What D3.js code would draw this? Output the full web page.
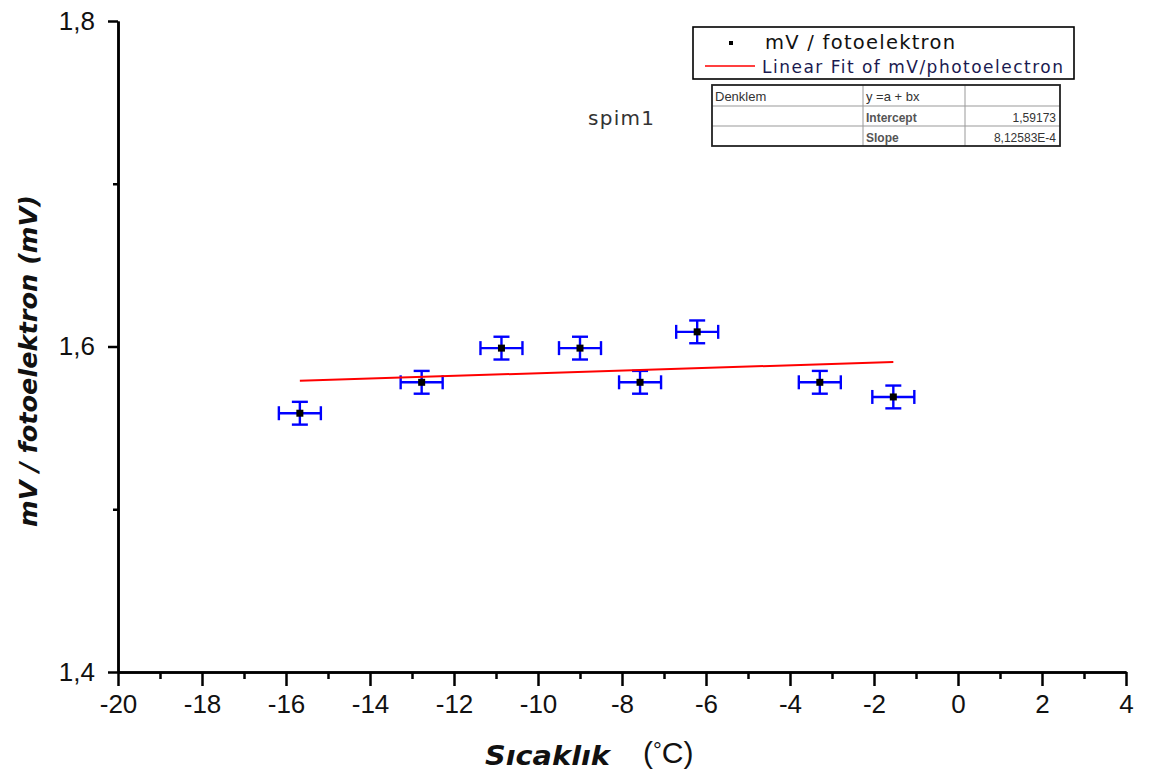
<!DOCTYPE html>
<html><head><meta charset="utf-8">
<script src="https://cdn.jsdelivr.net/npm/d3@7"></script>
<style>body{margin:0;background:#fff}svg{display:block}</style>
</head><body><svg id="chart" width="1150" height="771"></svg>
<script>
// ---- data ----
const temperatures = [-15.67, -12.77, -10.87, -9.0, -7.57, -6.21, -3.29, -1.54];
const signals      = [1.559, 1.578, 1.599, 1.599, 1.578, 1.609, 1.578, 1.569];
const tempErrors   = [0.5, 0.5, 0.5, 0.5, 0.5, 0.5, 0.5, 0.5];
const signalErrors = [0.007, 0.007, 0.007, 0.007, 0.007, 0.007, 0.007, 0.007];
const fitIntercept = 1.59173;
const fitSlope = 8.12583e-4;
const xMajorTicks = [-20, -18, -16, -14, -12, -10, -8, -6, -4, -2, 0, 2, 4];
const xMinorTicks = [-19, -17, -15, -13, -11, -9, -7, -5, -3, -1, 1, 3];
const yMajorTicks = [1.4, 1.6, 1.8];
const yMinorTicks = [1.5, 1.7];
const seriesName = "mV / fotoelektron";
const fitName = "Linear Fit of mV/photoelectron";
const tableRows = [["Denklem", "y =a + bx", ""], ["", "Intercept", "1,59173"], ["", "Slope", "8,12583E-4"]];
const annotation = "spim1";
const xTitle = "Sıcaklık";
const xUnit = "C";
const yTitle = "mV / fotoelektron (mV)";

// ---- drawing ----
const svg = d3.select("#chart");
svg.append("rect").attr("width", 1150).attr("height", 771).attr("fill", "#fff");

const x = d3.scaleLinear().domain([-20, 4]).range([118, 1126]);
const y = d3.scaleLinear().domain([1.4, 1.8]).range([672, 21]);
const comma = d => d.toFixed(1).replace(".", ",");

// minor ticks
const gxMinor = svg.append("g").attr("transform", "translate(0,672)")
  .call(d3.axisBottom(x).tickValues(xMinorTicks).tickSize(7).tickSizeOuter(0).tickFormat(""));
const gyMinor = svg.append("g").attr("transform", "translate(118,0)")
  .call(d3.axisLeft(y).tickValues(yMinorTicks).tickSize(5).tickSizeOuter(0).tickFormat(""));

const gx = svg.append("g").attr("transform", "translate(0,672)")
  .call(d3.axisBottom(x).tickValues(xMajorTicks).tickSize(14).tickSizeOuter(0).tickPadding(9).tickFormat(d => String(d)));
const gy = svg.append("g").attr("transform", "translate(118,0)")
  .call(d3.axisLeft(y).tickValues(yMajorTicks).tickSize(10).tickSizeOuter(0).tickPadding(13).tickFormat(comma));

[gx, gy, gxMinor, gyMinor].forEach(g => {
  g.selectAll("path.domain").attr("stroke", "#000").attr("stroke-width", 2.5);
  g.selectAll(".tick line").attr("stroke", "#000").attr("stroke-width", 2.5);
  g.selectAll(".tick text").attr("fill", "#111").attr("font-family", "'Liberation Sans', Arial, sans-serif").attr("font-size", 26);
});

// data points
const pts = temperatures.map((t, i) => ({t, v: signals[i], ex: tempErrors[i], ey: signalErrors[i]}));
const eb = svg.append("g").attr("stroke", "#0000ff").attr("stroke-width", 2.4).attr("fill", "none");
pts.forEach(p => {
  const cx = x(p.t), cy = y(p.v);
  const x0 = x(p.t - p.ex), x1 = x(p.t + p.ex), y0 = y(p.v - p.ey), y1 = y(p.v + p.ey);
  eb.append("line").attr("x1", x0).attr("x2", x1).attr("y1", cy).attr("y2", cy);
  eb.append("line").attr("x1", x0).attr("x2", x0).attr("y1", cy - 7).attr("y2", cy + 7);
  eb.append("line").attr("x1", x1).attr("x2", x1).attr("y1", cy - 7).attr("y2", cy + 7);
  eb.append("line").attr("x1", cx).attr("x2", cx).attr("y1", y0).attr("y2", y1);
  eb.append("line").attr("x1", cx - 8).attr("x2", cx + 8).attr("y1", y0).attr("y2", y0);
  eb.append("line").attr("x1", cx - 8).attr("x2", cx + 8).attr("y1", y1).attr("y2", y1);
});

// fit line
const tMin = d3.min(temperatures), tMax = d3.max(temperatures);
svg.append("path")
  .attr("d", d3.line().x(d => x(d)).y(d => y(fitIntercept + fitSlope * d))([tMin, tMax]))
  .attr("stroke", "#ff0000").attr("stroke-width", 2).attr("fill", "none");

svg.append("g").selectAll("rect").data(pts).join("rect")
  .attr("x", d => x(d.t) - 3.5).attr("y", d => y(d.v) - 3.5)
  .attr("width", 7).attr("height", 7).attr("fill", "#000");

// legend
const lg = svg.append("g");
lg.append("rect").attr("x", 693).attr("y", 27).attr("width", 381).attr("height", 52)
  .attr("fill", "#fff").attr("stroke", "#000").attr("stroke-width", 1.6);
lg.append("rect").attr("x", 729).attr("y", 41).attr("width", 4).attr("height", 4).attr("fill", "#000");
lg.append("text").attr("x", 765).attr("y", 49).text(seriesName)
  .attr("font-family", "'DejaVu Sans', Verdana, sans-serif").attr("font-size", 19.5).attr("fill", "#111")
  .attr("textLength", 190).attr("lengthAdjust", "spacing");
lg.append("line").attr("x1", 705).attr("x2", 755).attr("y1", 66).attr("y2", 66)
  .attr("stroke", "#ff0000").attr("stroke-width", 1.6);
lg.append("text").attr("x", 762).attr("y", 73).text(fitName)
  .attr("font-family", "'DejaVu Sans', Verdana, sans-serif").attr("font-size", 17).attr("fill", "#1a1a50")
  .attr("textLength", 301).attr("lengthAdjust", "spacing");

// table
const tb = svg.append("g");
const colX = [712, 863, 965, 1060];
const rowY = [85, 106, 126, 146];
tb.append("rect").attr("x", colX[0]).attr("y", rowY[0]).attr("width", colX[3] - colX[0]).attr("height", rowY[3] - rowY[0])
  .attr("fill", "#fff");
[1, 2].forEach(i => {
  tb.append("line").attr("x1", colX[i]).attr("x2", colX[i]).attr("y1", rowY[0]).attr("y2", rowY[3]).attr("stroke", "#999").attr("stroke-width", 1);
  tb.append("line").attr("x1", colX[0]).attr("x2", colX[3]).attr("y1", rowY[i]).attr("y2", rowY[i]).attr("stroke", "#999").attr("stroke-width", 1);
});
tb.append("rect").attr("x", colX[0]).attr("y", rowY[0]).attr("width", colX[3] - colX[0]).attr("height", rowY[3] - rowY[0])
  .attr("fill", "none").attr("stroke", "#222").attr("stroke-width", 1.8);
tableRows.forEach((row, r) => {
  row.forEach((cell, c) => {
    if (!cell) return;
    const t = tb.append("text").text(cell)
      .attr("y", rowY[r] + 16)
      .attr("font-family", "'Liberation Sans', Arial, sans-serif")
      .attr("fill", "#333");
    if (c === 2) t.attr("x", colX[3] - 4).attr("text-anchor", "end").attr("font-size", 12);
    else if (r > 0 && c === 1) t.attr("x", colX[c] + 3).attr("font-size", 12).attr("font-weight", 600).attr("fill", "#555");
    else t.attr("x", colX[c] + 3).attr("font-size", 13);
  });
});

// annotation
svg.append("text").attr("x", 588).attr("y", 125).text(annotation)
  .attr("font-family", "'DejaVu Sans', Verdana, sans-serif").attr("font-size", 20).attr("fill", "#333")
  .attr("textLength", 66).attr("lengthAdjust", "spacing");

// axis titles
svg.append("text").attr("x", 485).attr("y", 765).text(xTitle)
  .attr("font-family", "'DejaVu Sans', Verdana, sans-serif").attr("font-size", 26)
  .attr("font-weight", "bold").attr("font-style", "italic").attr("fill", "#111")
  .attr("textLength", 125).attr("lengthAdjust", "spacingAndGlyphs");
const unit = svg.append("text").attr("x", 643).attr("y", 763)
  .attr("font-family", "'Liberation Sans', Arial, sans-serif").attr("font-size", 30).attr("fill", "#111");
unit.append("tspan").text("(");
unit.append("tspan").text("°").attr("font-size", 22).attr("dy", -5);
unit.append("tspan").text(xUnit + ")").attr("dy", 5);

svg.append("text").attr("transform", "translate(37,361) rotate(-90)").attr("text-anchor", "middle").text(yTitle)
  .attr("font-family", "'DejaVu Sans', Verdana, sans-serif").attr("font-size", 25)
  .attr("font-weight", "bold").attr("font-style", "italic").attr("fill", "#111")
  .attr("textLength", 332).attr("lengthAdjust", "spacingAndGlyphs");
</script></body></html>
